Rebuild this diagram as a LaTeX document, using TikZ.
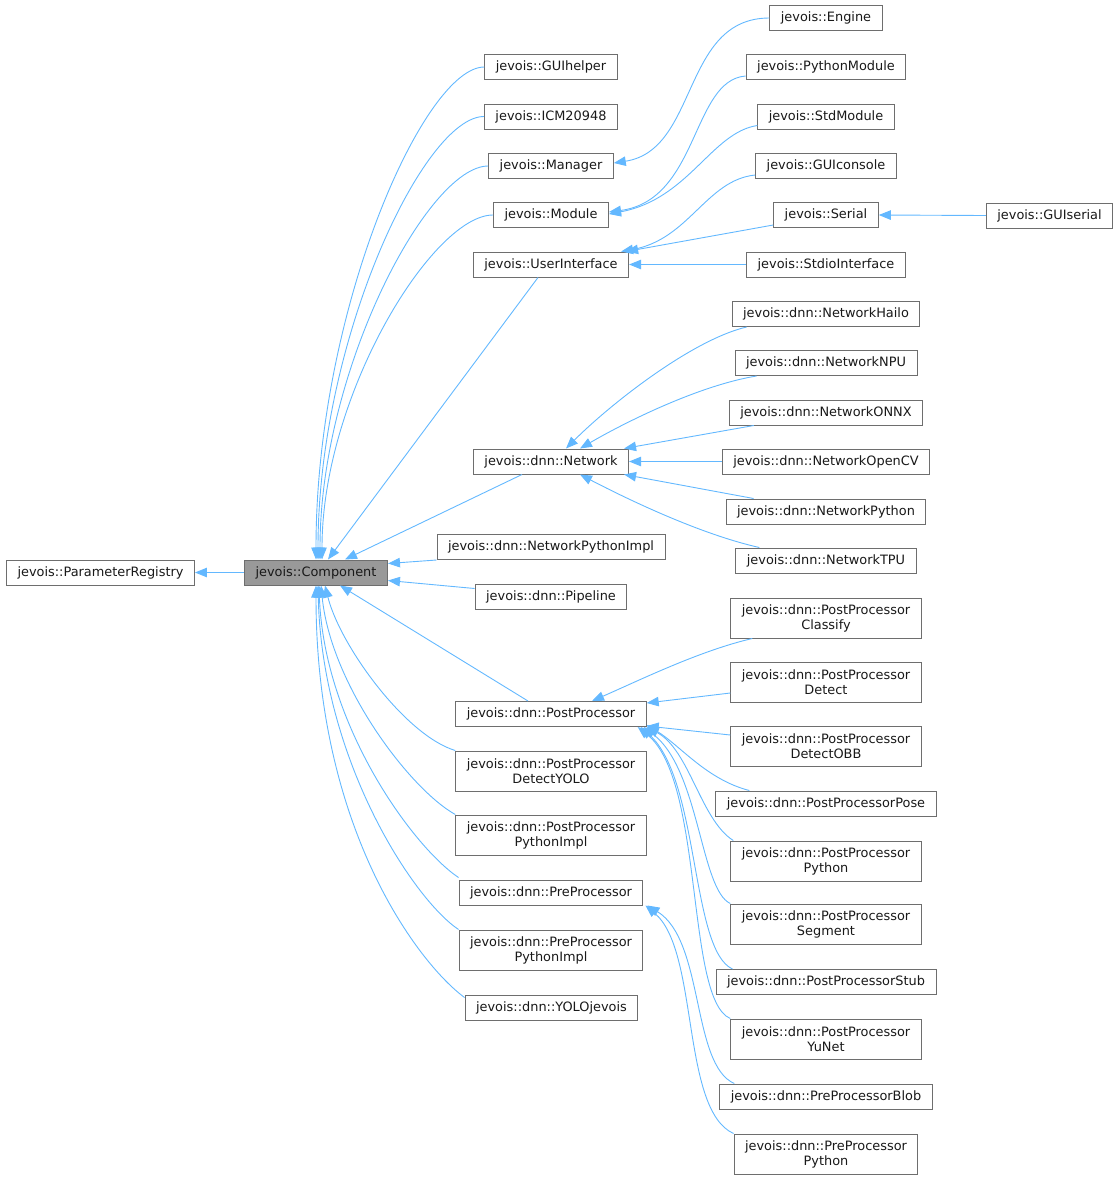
\documentclass[tikz,border=0pt]{standalone}
\usepackage{fontspec}
\setmainfont{DejaVu Sans}
\usetikzlibrary{arrows.meta,positioning}

\definecolor{edgeblue}{HTML}{63B8FF}
\definecolor{boxline}{HTML}{6E6E6E}
\definecolor{basefill}{HTML}{999999}

\tikzset{
  cls/.style={draw=boxline, line width=1pt, fill=white, rectangle, minimum height=25pt, inner xsep=11pt, inner ysep=2pt, font=\fontsize{12.9}{15}\selectfont, text=black!90},
  twoline/.style={cls, align=center, minimum height=40pt},
  inh/.style={draw=edgeblue, line width=0.9pt, -{Triangle[length=12pt,width=9.5pt]}}
}

\begin{document}
\begin{tikzpicture}[x=1pt, y=-1pt]
  \useasboundingbox (0,0) rectangle (1120,1179);

  % base classes
  \node[cls] (ParameterRegistry) at (100.5,572.5) {jevois::ParameterRegistry};
  \node[cls, fill=basefill] (Component) at (316,572.5) {jevois::Component};

  % direct children of Component
  \node[cls] (GUIhelper) at (551,67) {jevois::GUIhelper};
  \node[cls] (ICM20948) at (551,116.5) {jevois::ICM20948};
  \node[cls] (Manager) at (551,166) {jevois::Manager};
  \node[cls] (Module) at (551,215) {jevois::Module};
  \node[cls] (UserInterface) at (551,264.5) {jevois::UserInterface};
  \node[cls] (Network) at (551,461.5) {jevois::dnn::Network};
  \node[cls] (NetworkPythonImpl) at (551,547) {jevois::dnn::NetworkPythonImpl};
  \node[cls] (Pipeline) at (551,596.5) {jevois::dnn::Pipeline};
  \node[cls] (PostProcessor) at (551,714) {jevois::dnn::PostProcessor};
  \node[twoline] (PPDetectYOLO) at (551,771) {jevois::dnn::PostProcessor\\DetectYOLO};
  \node[twoline] (PPPythonImpl) at (551,835) {jevois::dnn::PostProcessor\\PythonImpl};
  \node[cls] (PreProcessor) at (551,892.5) {jevois::dnn::PreProcessor};
  \node[twoline] (PreProcPythonImpl) at (551,950) {jevois::dnn::PreProcessor\\PythonImpl};
  \node[cls] (YOLOjevois) at (551.5,1007.5) {jevois::dnn::YOLOjevois};

  % third level
  \node[cls] (Engine) at (826,18) {jevois::Engine};
  \node[cls] (PythonModule) at (826,67) {jevois::PythonModule};
  \node[cls] (StdModule) at (826,116.5) {jevois::StdModule};
  \node[cls] (GUIconsole) at (826,166) {jevois::GUIconsole};
  \node[cls] (Serial) at (826,215) {jevois::Serial};
  \node[cls] (StdioInterface) at (826,264.5) {jevois::StdioInterface};
  \node[cls] (GUIserial) at (1049.5,215.5) {jevois::GUIserial};

  \node[cls] (NetworkHailo) at (826,314) {jevois::dnn::NetworkHailo};
  \node[cls] (NetworkNPU) at (826,363) {jevois::dnn::NetworkNPU};
  \node[cls] (NetworkONNX) at (826,412.5) {jevois::dnn::NetworkONNX};
  \node[cls] (NetworkOpenCV) at (826,461.5) {jevois::dnn::NetworkOpenCV};
  \node[cls] (NetworkPython) at (826,511.5) {jevois::dnn::NetworkPython};
  \node[cls] (NetworkTPU) at (826,560.5) {jevois::dnn::NetworkTPU};

  \node[twoline] (PPClassify) at (826,618) {jevois::dnn::PostProcessor\\Classify};
  \node[twoline] (PPDetect) at (826,682) {jevois::dnn::PostProcessor\\Detect};
  \node[twoline] (PPDetectOBB) at (826,746) {jevois::dnn::PostProcessor\\DetectOBB};
  \node[cls] (PPPose) at (826,803.5) {jevois::dnn::PostProcessorPose};
  \node[twoline] (PPPython) at (826,861) {jevois::dnn::PostProcessor\\Python};
  \node[twoline] (PPSegment) at (826,924) {jevois::dnn::PostProcessor\\Segment};
  \node[cls] (PPStub) at (826,982) {jevois::dnn::PostProcessorStub};
  \node[twoline] (PPYuNet) at (826,1039) {jevois::dnn::PostProcessor\\YuNet};
  \node[cls] (PreProcessorBlob) at (826,1096.5) {jevois::dnn::PreProcessorBlob};
  \node[twoline] (PreProcPython) at (826,1154) {jevois::dnn::PreProcessor\\Python};

  % inheritance edges into Component
  \draw[inh] (Component.west) -- (ParameterRegistry.east);
  \draw[inh] (GUIhelper.west) .. controls +(-60,0) and +(0,-250) .. (Component.north);
  \draw[inh] (ICM20948.west) .. controls +(-60,0) and +(0,-220) .. ([xshift=2pt]Component.north);
  \draw[inh] (Manager.west) .. controls +(-60,0) and +(0,-190) .. ([xshift=4pt]Component.north);
  \draw[inh] (Module.west) .. controls +(-60,0) and +(0,-165) .. ([xshift=6pt]Component.north);
  \draw[inh] ([xshift=-13pt]UserInterface.south) -- ([xshift=12pt]Component.north);
  \draw[inh] ([xshift=-29pt]Network.south) -- ([xshift=29pt]Component.north);
  \draw[inh] (NetworkPythonImpl.south west) -- ([yshift=9pt]Component.east);
  \draw[inh] ([yshift=8pt]Pipeline.west) -- ([yshift=-8pt]Component.east);
  \draw[inh] ([xshift=-23pt]PostProcessor.north) -- ([xshift=24pt]Component.south);
  \draw[inh] (PPDetectYOLO.north west) .. controls +(-50,-15) and +(15,60) .. ([xshift=9pt]Component.south);
  \draw[inh] (PPPythonImpl.north west) .. controls +(-45,-25) and +(10,100) .. ([xshift=5pt]Component.south);
  \draw[inh] ([yshift=2pt]PreProcessor.north west) .. controls +(-45,-30) and +(5,140) .. ([xshift=3pt]Component.south);
  \draw[inh] (PreProcPythonImpl.north west) .. controls +(-45,-30) and +(4,175) .. ([xshift=2pt]Component.south);
  \draw[inh] ([yshift=-3pt]YOLOjevois.north west) .. controls +(-45,-33) and +(0,245) .. (Component.south);

  % Manager, Module, UserInterface
  \draw[inh] (Engine.west) .. controls +(-88,0) and +(85,-13) .. ([yshift=3pt]Manager.east);
  \draw[inh] ([yshift=-9pt]PythonModule.west) .. controls +(-54,4) and +(90,-12) .. ([yshift=3pt]Module.east);
  \draw[inh] ([yshift=-9pt]StdModule.west) .. controls +(-46,7) and +(80,-15) .. ([yshift=1pt]Module.east);
  \draw[inh] ([yshift=-9pt]GUIconsole.west) .. controls +(-49,5) and +(68,-12) .. ([xshift=-8pt]UserInterface.north east);
  \draw[inh] ([yshift=-10pt]Serial.west) -- ([xshift=-3pt]UserInterface.north east);
  \draw[inh] (StdioInterface.west) -- (UserInterface.east);
  \draw[inh] (GUIserial.west) -- (Serial.east);

  % Network
  \draw[inh] ([xshift=15pt]NetworkHailo.south west) .. controls +(-55,13) and +(44,-44) .. ([xshift=15pt]Network.north);
  \draw[inh] ([xshift=22pt]NetworkNPU.south west) .. controls +(-55,9) and +(50,-29) .. ([xshift=29pt]Network.north);
  \draw[inh] ([xshift=25pt]NetworkONNX.south west) -- ([xshift=-5pt]Network.north east);
  \draw[inh] (NetworkOpenCV.west) -- (Network.east);
  \draw[inh] ([xshift=28pt]NetworkPython.north west) -- ([xshift=-5pt]Network.south east);
  \draw[inh] ([xshift=24pt]NetworkTPU.north west) .. controls +(-58,-13) and +(50,26) .. ([xshift=29pt]Network.south);

  % PostProcessor
  \draw[inh] ([xshift=22pt]PPClassify.south west) .. controls +(-52,12) and +(48,-21) .. ([xshift=41pt]PostProcessor.north);
  \draw[inh] ([yshift=-11pt]PPDetect.west) -- ([yshift=-2pt]PostProcessor.north east);
  \draw[inh] ([yshift=11pt]PPDetectOBB.west) -- ([yshift=1pt]PostProcessor.south east);
  \draw[inh] ([xshift=34pt]PPPose.north west) .. controls +(-43,-11) and +(33,20) .. ([yshift=2pt]PostProcessor.south east);
  \draw[inh] ([xshift=3pt]PPPython.north west) .. controls +(-33,-21) and +(43,23) .. (PostProcessor.south east);
  \draw[inh] (PPSegment.north west) .. controls +(-30,-14) and +(56,43) .. ([xshift=-3pt]PostProcessor.south east);
  \draw[inh] ([xshift=17pt]PPStub.north west) .. controls +(-42,-19) and +(59,53) .. ([xshift=-6pt]PostProcessor.south east);
  \draw[inh] (PPYuNet.north west) .. controls +(-45,-19) and +(67,53) .. ([xshift=-9pt]PostProcessor.south east);

  % PreProcessor
  \draw[inh] ([xshift=15pt]PreProcessorBlob.north west) .. controls +(-43,-19) and +(57,35) .. ([xshift=4pt]PreProcessor.south east);
  \draw[inh] (PreProcPython.north west) .. controls +(-53,-24) and +(54,45) .. ([xshift=2pt]PreProcessor.south east);
\end{tikzpicture}
\end{document}
